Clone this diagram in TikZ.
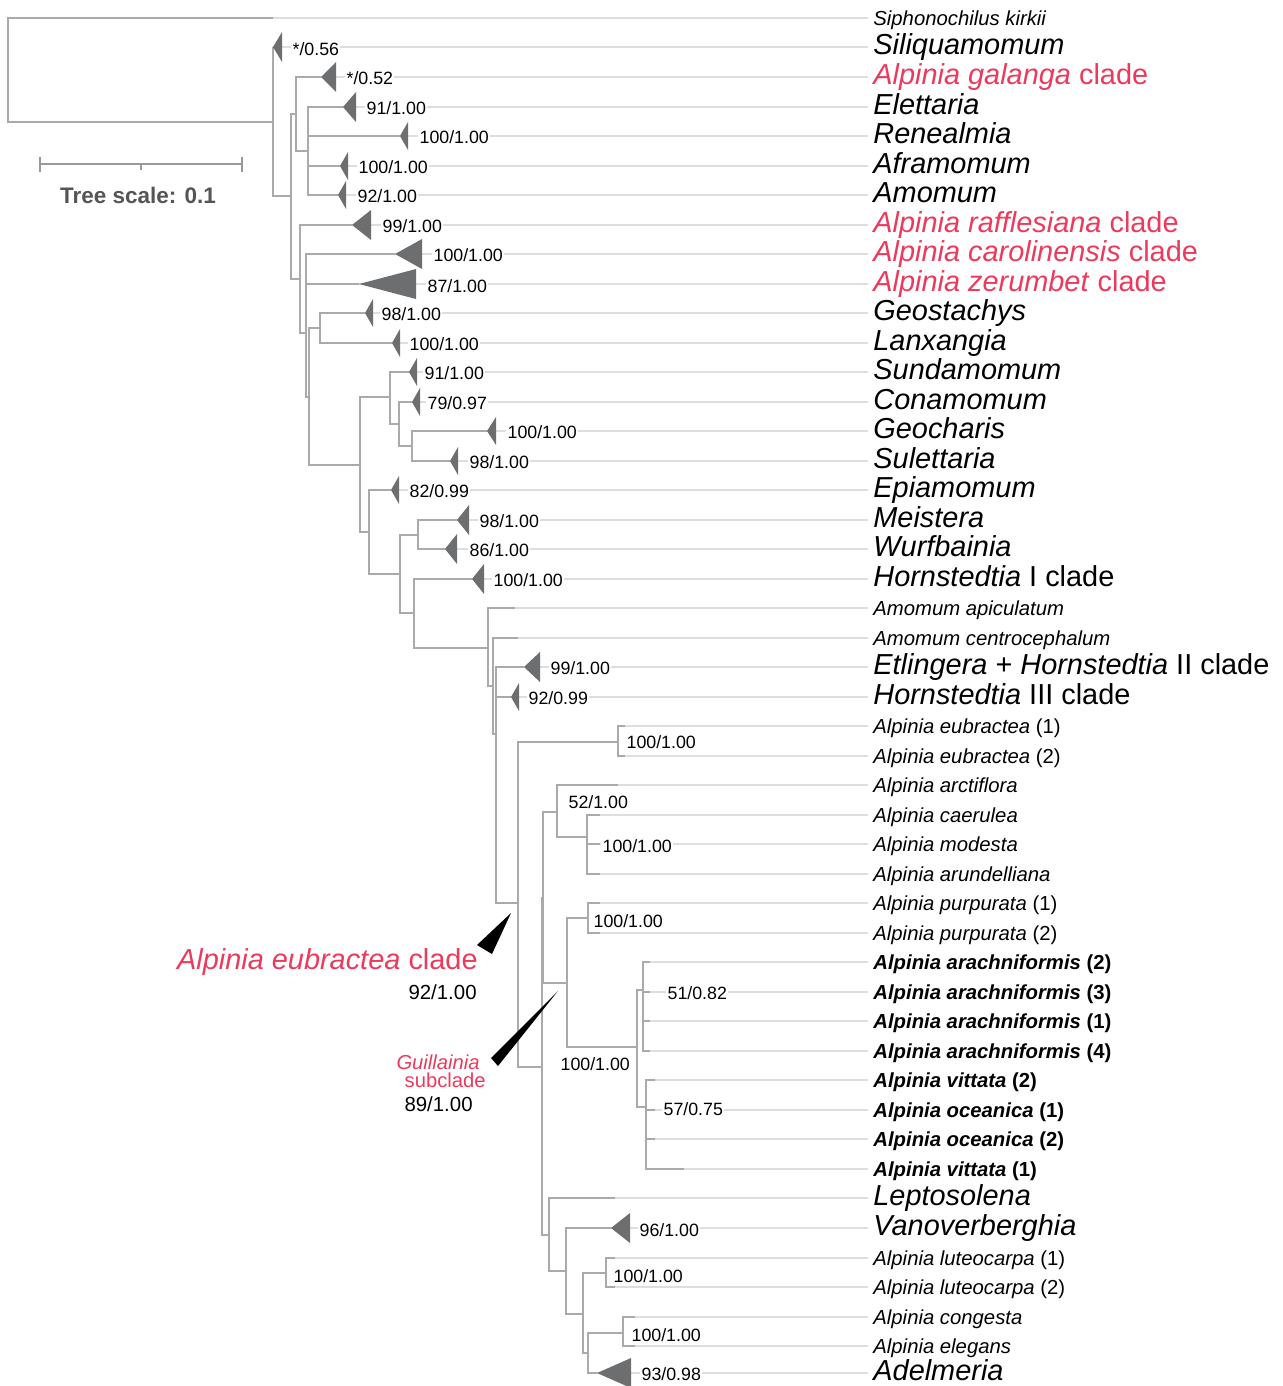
\documentclass[tikz,border=0pt]{standalone}
\usepackage{fontspec}
\setmainfont{Liberation Sans}
\definecolor{branchgray}{RGB}{170,170,170}
\definecolor{extgray}{RGB}{222,222,222}
\definecolor{cladegray}{RGB}{108,110,112}
\definecolor{cladered}{RGB}{235,58,92}
\definecolor{scalegray}{RGB}{85,85,85}
\begin{document}
\begin{tikzpicture}[x=0.5pt, y=-0.5pt,
  branch/.style={draw=branchgray, line width=0.75pt},
  ext/.style={draw=extgray, line width=0.7pt},
  lab/.style={anchor=west, inner xsep=2.5pt, inner ysep=0pt, text height=0.72em, text depth=0pt},
  big/.style={lab, font=\fontsize{14.45}{17}\selectfont},
  bigred/.style={big, text=cladered},
  small/.style={lab, font=\fontsize{10.15}{12}\selectfont},
  bold/.style={lab, font=\fontsize{10.15}{12}\selectfont\bfseries},
  supp/.style={anchor=west, inner sep=0.6pt, fill=white, text height=0.72em, text depth=0pt,
    font=\fontsize{8.9}{10}\selectfont},
  side/.style={anchor=east, inner sep=0pt, text height=0.72em, text depth=0pt}]

  \useasboundingbox (0,0) rectangle (1283,1386);

  % tree nodes and tips (pixel grid of the figure)
  \foreach \n/\x/\y in {root/8/70, sip/273/18, n1/273/122, sil/273/47, n2/291/196,
      n3/296/114, n4/300/279, gal/321/77, n5/308/151, ele/343/107, ren/400/136,
      afr/340/166, amo/338/195, raf/352/225, n6/306/333, car/395/254, zer/359/284,
      n7/309/397, n8/320/328, geo/365/313, lan/392/343, n9/360/465, n10/390/397,
      sun/409/372, n11/399/424, con/412/402, n12/412/446, gch/487/431, sul/450/461,
      n13/369/532, epi/391/490, n14/400/574, n15/418/535, mei/457/520, wur/445/549,
      n16/414/613, ho1/472/579, n17/488/648, api/515/608, n18/493/686, cen/518/638,
      n19/496/734, etl/524/667, ho3/511/697, n20/518/903, n21/618/742, eu1/625/726,
      eu2/625/756, n22/542/1067, n23/543/898, n24/557/812, arc/618/785, n25/587/837,
      cae/600/815, mod/600/844, aru/600/874, n26/567/983, n27/588/918, pu1/600/903,
      pu2/600/933, n28/637/1047, n29/643/990, ar2/650/962, ar3/650/992, ar1/650/1021,
      ar4/650/1051, n30/646/1107, vi2/655/1080, oc1/655/1110, oc2/655/1139,
      vi1/684/1169, n31/549/1235, lep/615/1198, n32/566/1271, van/611/1228,
      n33/583/1314, n34/606/1273, lu1/615/1258, lu2/615/1287, n35/588/1353,
      n36/623/1333, cog/635/1317, elg/635/1346, ade/597/1373}
    \coordinate (\n) at (\x,\y);
  \coordinate (xlab) at (868,0);

  % tip labels
  \foreach \c/\s/\t in {
      sip/small/{\textit{Siphonochilus kirkii}},
      sil/big/{\textit{Siliquamomum}},
      gal/bigred/{\textit{Alpinia galanga} clade},
      ele/big/{\textit{Elettaria}},
      ren/big/{\textit{Renealmia}},
      afr/big/{\textit{Aframomum}},
      amo/big/{\textit{Amomum}},
      raf/bigred/{\textit{Alpinia rafflesiana} clade},
      car/bigred/{\textit{Alpinia carolinensis} clade},
      zer/bigred/{\textit{Alpinia zerumbet} clade},
      geo/big/{\textit{Geostachys}},
      lan/big/{\textit{Lanxangia}},
      sun/big/{\textit{Sundamomum}},
      con/big/{\textit{Conamomum}},
      gch/big/{\textit{Geocharis}},
      sul/big/{\textit{Sulettaria}},
      epi/big/{\textit{Epiamomum}},
      mei/big/{\textit{Meistera}},
      wur/big/{\textit{Wurfbainia}},
      ho1/big/{\textit{Hornstedtia} I clade},
      api/small/{\textit{Amomum apiculatum}},
      cen/small/{\textit{Amomum centrocephalum}},
      etl/big/{\textit{Etlingera} + \textit{Hornstedtia} II clade},
      ho3/big/{\textit{Hornstedtia} III clade},
      eu1/small/{\textit{Alpinia eubractea} (1)},
      eu2/small/{\textit{Alpinia eubractea} (2)},
      arc/small/{\textit{Alpinia arctiflora}},
      cae/small/{\textit{Alpinia caerulea}},
      mod/small/{\textit{Alpinia modesta}},
      aru/small/{\textit{Alpinia arundelliana}},
      pu1/small/{\textit{Alpinia purpurata} (1)},
      pu2/small/{\textit{Alpinia purpurata} (2)},
      ar2/bold/{\textit{Alpinia arachniformis} (2)},
      ar3/bold/{\textit{Alpinia arachniformis} (3)},
      ar1/bold/{\textit{Alpinia arachniformis} (1)},
      ar4/bold/{\textit{Alpinia arachniformis} (4)},
      vi2/bold/{\textit{Alpinia vittata} (2)},
      oc1/bold/{\textit{Alpinia oceanica} (1)},
      oc2/bold/{\textit{Alpinia oceanica} (2)},
      vi1/bold/{\textit{Alpinia vittata} (1)},
      lep/big/{\textit{Leptosolena}},
      van/big/{\textit{Vanoverberghia}},
      lu1/small/{\textit{Alpinia luteocarpa} (1)},
      lu2/small/{\textit{Alpinia luteocarpa} (2)},
      cog/small/{\textit{Alpinia congesta}},
      elg/small/{\textit{Alpinia elegans}},
      ade/big/{\textit{Adelmeria}}}
  {
    \node[\s] (l\c) at (\c -| xlab) {\t};
    \draw[ext] (\c) -- (l\c.west);
  }

  % branches
  \foreach \p/\c in {root/sip, root/n1, n1/sil, n1/n2, n2/n3, n2/n4, n3/gal, n3/n5,
      n5/ele, n5/ren, n5/afr, n5/amo, n4/raf, n4/n6, n6/car, n6/zer, n6/n7, n7/n8,
      n7/n9, n8/geo, n8/lan, n9/n10, n9/n13, n10/sun, n10/n11, n11/con, n11/n12,
      n12/gch, n12/sul, n13/epi, n13/n14, n14/n15, n14/n16, n15/mei, n15/wur,
      n16/ho1, n16/n17, n17/api, n17/n18, n18/cen, n18/n19, n19/etl, n19/ho3,
      n19/n20, n20/n21, n20/n22, n21/eu1, n21/eu2, n22/n23, n22/n31, n23/n24,
      n23/n26, n24/arc, n24/n25, n25/cae, n25/mod, n25/aru, n26/n27, n26/n28,
      n27/pu1, n27/pu2, n28/n29, n28/n30, n29/ar2, n29/ar3, n29/ar1, n29/ar4,
      n30/vi2, n30/oc1, n30/oc2, n30/vi1, n31/lep, n31/n32, n32/van, n32/n33,
      n33/n34, n33/n35, n34/lu1, n34/lu2, n35/n36, n35/ade, n36/cog, n36/elg}
    \draw[branch] (\p) |- (\c);

  % collapsed clades
  \foreach \c/\w/\h in {sil/9/15, gal/15/15, ele/13/15, ren/8/14, afr/8/14, amo/8/14,
      raf/19/15, car/27/15, zer/57/15, geo/8/14, lan/8/14, sun/8/14, con/8/14,
      gch/9/14, sul/8/14, epi/8/14, mei/12/15, wur/12/15, ho1/12/15, etl/16/15,
      ho3/8/14, van/19/15, ade/34/15}
    \fill[cladegray] (\c) -- ++(\w,\h) -- ++(0,{-2*\h}) -- cycle;

  % support values (bootstrap / posterior)
  \foreach \x/\y/\t [count=\i] in {291/48/{*/0.56}, 345/77/{*/0.52}, 365/107/{91/1.00},
      418/136/{100/1.00}, 357/166/{100/1.00}, 356/195/{92/1.00}, 381/225/{99/1.00},
      432/254/{100/1.00}, 426/285/{87/1.00}, 380/313/{98/1.00}, 408/343/{100/1.00},
      423/372/{91/1.00}, 426/402/{79/0.97}, 506/431/{100/1.00}, 468/461/{98/1.00},
      408/490/{82/0.99}, 478/520/{98/1.00}, 468/549/{86/1.00}, 492/579/{100/1.00},
      549/667/{99/1.00}, 527/697/{92/0.99}, 625/741/{100/1.00}, 567/801/{52/1.00},
      601/845/{100/1.00}, 592/920/{100/1.00}, 666/992/{51/0.82}, 559/1063/{100/1.00},
      662/1108/{57/0.75}, 638/1229/{96/1.00}, 612/1275/{100/1.00},
      630/1334/{100/1.00}, 640/1373/{93/0.98}}
    \node[supp] (s\i) at (\x,\y) {\t};

  % clade pointers on the left
  \fill[black] (511,913) -- (477,945) -- (492,954) -- cycle;
  \fill[black] (558,991) -- (491,1058) -- (498,1066) -- cycle;
  \node[side, font=\fontsize{14.45}{17}\selectfont, text=cladered] (leub) at (478,962)
    {\textit{Alpinia eubractea} clade};
  \node[side, font=\fontsize{10.2}{12}\selectfont] (seub) at (477,992) {92/1.00};
  \node[side, font=\fontsize{10.1}{12}\selectfont, text=cladered] (lgui) at (480,1062)
    {\textit{Guillainia}};
  \node[side, font=\fontsize{10.1}{12}\selectfont, text=cladered] (lsub) at (486,1080)
    {subclade};
  \node[side, font=\fontsize{10.2}{12}\selectfont] (sgui) at (473,1104) {89/1.00};

  % scale bar
  \coordinate (sbl) at (40,164);
  \coordinate (sbm) at (141,164);
  \coordinate (sbr) at (242,164);
  \draw[branch, draw=gray!80] (sbl) -- (sbr);
  \draw[branch, draw=gray!80] (sbl) ++(0,-7) -- ++(0,15);
  \draw[branch, draw=gray!80] (sbr) ++(0,-7) -- ++(0,15);
  \draw[branch, draw=gray!80] (sbm) -- ++(0,6);
  \node[font=\fontsize{11.25}{13}\selectfont\bfseries, text=scalegray, text height=0.72em,
    text depth=0pt] (tscale) at (138,196) {Tree scale: 0.1};

\end{tikzpicture}
\end{document}
